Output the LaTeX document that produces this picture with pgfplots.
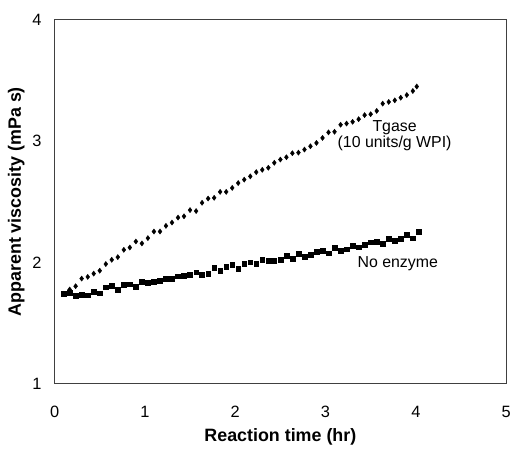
\documentclass[border=0pt]{standalone}
\usepackage{fontspec}
\setmainfont{Liberation Sans}
\usepackage{pgfplots}
\pgfplotsset{compat=1.18}
\begin{document}
\begin{tikzpicture}
\begin{axis}[
  scale only axis, width=455pt, height=366.5pt,
  xmin=0, xmax=5, ymin=1, ymax=4,
  xtick={0,1,2,3,4,5}, ytick={1,2,3,4},
  major tick length=0pt,
  axis line style={black!75, line width=0.9pt},
  /pgf/number format/assume math mode=true,
  tick label style={font=\fontsize{16.5}{19}\selectfont},
  xticklabel style={anchor=center, yshift=-28.5pt},
  yticklabel style={anchor=east, inner sep=0pt, xshift=-13pt},
  xlabel={Reaction time (hr)},
  ylabel={Apparent viscosity (mPa s)},
  label style={font=\fontsize{18}{21}\selectfont\bfseries},
  xlabel style={at={(axis description cs:0.5,0)}, anchor=center, yshift=-53.5pt},
  ylabel style={at={(axis description cs:0,0.5)}, anchor=center, yshift=38.5pt},
  clip=false,
]
\addplot[only marks, mark=diamond*, mark size=2.6pt, black] coordinates {
(0.100,1.740) (0.167,1.776) (0.233,1.803) (0.300,1.866) (0.367,1.880)
(0.433,1.907) (0.500,1.931) (0.567,1.986) (0.633,2.021) (0.700,2.043)
(0.767,2.103) (0.833,2.122) (0.900,2.172) (0.967,2.156) (1.033,2.200)
(1.100,2.254) (1.167,2.254) (1.233,2.301) (1.300,2.328) (1.367,2.369)
(1.433,2.380) (1.500,2.431) (1.567,2.423) (1.633,2.491) (1.700,2.526)
(1.767,2.532) (1.833,2.581) (1.900,2.581) (1.967,2.614) (2.033,2.654)
(2.100,2.682) (2.167,2.709) (2.233,2.744) (2.300,2.763) (2.367,2.780)
(2.433,2.821) (2.500,2.848) (2.567,2.867) (2.633,2.900) (2.700,2.905)
(2.767,2.930) (2.833,2.957) (2.900,2.985) (2.967,3.026) (3.033,3.072)
(3.100,3.077) (3.167,3.135) (3.233,3.145) (3.300,3.159) (3.367,3.181)
(3.433,3.214) (3.500,3.222) (3.567,3.249) (3.633,3.309) (3.700,3.323)
(3.767,3.336) (3.833,3.358) (3.900,3.380) (3.967,3.413) (4.010,3.450)
};
\addplot[only marks, mark=square*, mark size=2.4pt, black] coordinates {
(0.100,1.742) (0.167,1.748) (0.233,1.725) (0.300,1.732) (0.367,1.728)
(0.433,1.758) (0.500,1.745) (0.567,1.795) (0.633,1.808) (0.700,1.772)
(0.767,1.815) (0.833,1.820) (0.900,1.798) (0.967,1.840) (1.033,1.830)
(1.100,1.842) (1.167,1.846) (1.233,1.862) (1.300,1.868) (1.367,1.885)
(1.433,1.890) (1.500,1.896) (1.567,1.918) (1.633,1.899) (1.700,1.904)
(1.767,1.953) (1.833,1.931) (1.900,1.961) (1.967,1.980) (2.033,1.948)
(2.100,1.988) (2.167,2.002) (2.233,1.988) (2.300,2.021) (2.367,2.013)
(2.433,2.013) (2.500,2.021) (2.567,2.054) (2.633,2.030) (2.700,2.073)
(2.767,2.048) (2.833,2.062) (2.900,2.089) (2.967,2.098) (3.033,2.076)
(3.100,2.122) (3.167,2.098) (3.233,2.109) (3.300,2.139) (3.367,2.125)
(3.433,2.144) (3.500,2.166) (3.567,2.172) (3.633,2.153) (3.700,2.194)
(3.767,2.177) (3.833,2.194) (3.900,2.226) (3.967,2.199) (4.033,2.254)
};
\node[align=center, font=\fontsize{16}{13}\selectfont] at (axis cs:3.765,3.045) {Tgase\\(10 units/g WPI)};
\node[font=\fontsize{16}{19}\selectfont] at (axis cs:3.80,1.986) {No enzyme};
\end{axis}
\path (current axis.south west) ++(-55pt,-69.5pt) coordinate (bl);
\path (current axis.north east) ++(4pt,20pt) coordinate (tr);
\path (bl) rectangle (tr);
\end{tikzpicture}
\end{document}
